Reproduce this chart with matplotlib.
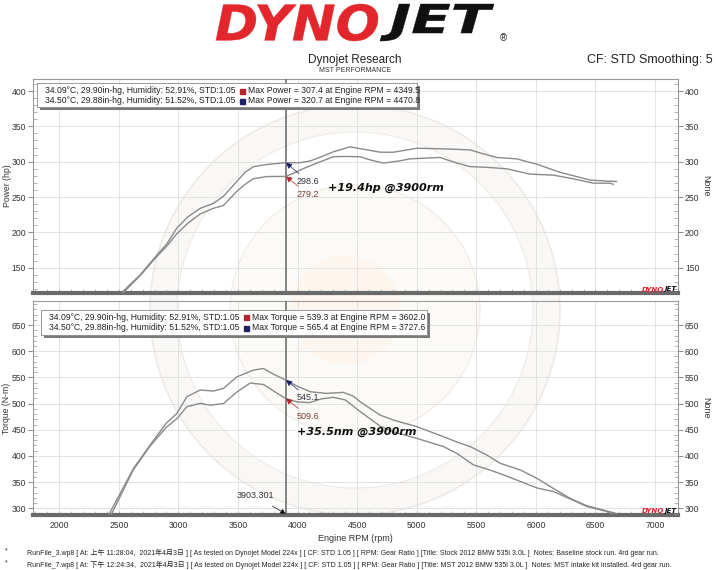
import matplotlib
matplotlib.use("Agg")
import matplotlib.pyplot as plt
from matplotlib.patches import Rectangle, Circle, PathPatch
from matplotlib.ticker import MultipleLocator
from matplotlib.textpath import TextPath
from matplotlib.font_manager import FontProperties
from matplotlib.transforms import Affine2D

# ---------------- data ----------------
hp_mst_rpm = [2526, 2680, 2820, 2900, 2987, 3080, 3183, 3294, 3378, 3490, 3560, 3630, 3742, 3900,
              4022, 4106, 4200, 4301, 4441, 4525, 4693, 4805, 5001, 5252, 5448, 5560, 5672, 5839,
              6007, 6203, 6455, 6594, 6678]
hp_mst = [115, 140, 168, 183, 206, 222, 234, 241, 251, 272, 285, 293, 296, 298.6,
          298.6, 301, 307, 314, 321, 318.5, 313.4, 313.4, 319, 318, 316.7, 311, 306, 304,
          296.5, 285, 274, 272.5, 272]

hp_stock_rpm = [2540, 2680, 2820, 2900, 2987, 3080, 3183, 3294, 3378, 3490, 3560, 3630, 3742, 3900,
                3966, 4060, 4162, 4301, 4400, 4525, 4600, 4721, 4850, 4945, 5196, 5300, 5448, 5588,
                5755, 5951, 6147, 6315, 6483, 6623, 6650]
hp_stock = [115, 139, 166, 180, 198, 213, 226, 234, 238, 258, 268, 276, 279, 279.2,
            283.7, 291, 298, 307, 307.4, 307, 303, 298, 301, 304, 306, 300, 293, 292,
            290, 282.4, 281, 275.7, 269.6, 269.6, 268]

tq_mst_rpm = [2410, 2623, 2763, 2900, 2987, 3071, 3183, 3294, 3378, 3490, 3630, 3714, 3800, 3900,
              4000, 4106, 4245, 4383, 4470, 4525, 4693, 4805, 5001, 5224, 5364, 5448, 5588, 5700,
              5867, 6007, 6147, 6287, 6427, 6594, 6678]
tq_mst = [285, 376, 421, 463, 481, 513, 526, 524, 529, 551, 564, 567, 556, 545.1,
          533, 522.7, 519.5, 521.5, 514, 503.6, 478, 468.6, 456, 436.8, 424.4, 418, 401.8, 386,
          373.5, 357.5, 338, 319, 305, 295, 290]

tq_stock_rpm = [2430, 2623, 2763, 2900, 2987, 3071, 3183, 3267, 3378, 3490, 3602, 3714, 3800, 3900,
                4000, 4100, 4200, 4301, 4400, 4525, 4693, 4805, 5001, 5224, 5336, 5476, 5616, 5727,
                5867, 6007, 6147, 6287, 6427, 6594, 6640]
tq_stock = [285, 374, 419, 455, 471, 494, 500.5, 497, 500, 522, 539.3, 536.5, 524, 509.6,
            503, 502, 509, 512, 507, 485, 457, 446, 433.6, 418, 405, 383, 373, 364,
            351.6, 339, 332, 318, 303.6, 294, 290]

cursor_rpm = 3903.301
hp_at_cursor = [298.6, 279.2]     # MST, stock
tq_at_cursor = [545.1, 509.6]

legend_cond = ["34.09°C, 29.90in-hg, Humidity: 52.91%, STD:1.05",
               "34.50°C, 29.88in-hg, Humidity: 51.52%, STD:1.05"]
legend_power = ["Max Power = 307.4 at Engine RPM = 4349.5",
                "Max Power = 320.7 at Engine RPM = 4470.8"]
legend_torque = ["Max Torque = 539.3 at Engine RPM = 3602.0",
                 "Max Torque = 565.4 at Engine RPM = 3727.6"]

footer = ["RunFile_3.wp8 [ At: 上午 11:28:04,  2021年4月3日 ] [ As tested on Dynojet Model 224x ] [ CF: STD 1.05 ] [ RPM: Gear Ratio ] [Title: Stock 2012 BMW 535i 3.0L ]  Notes: Baseline stock run. 4rd gear run.",
          "RunFile_7.wp8 [ At: 下午 12:24:34,  2021年4月3日 ] [ As tested on Dynojet Model 224x ] [ CF: STD 1.05 ] [ RPM: Gear Ratio ] [Title: MST 2012 BMW 535i 3.0L ]  Notes: MST intake kit installed. 4rd gear run."]

# ---------------- style ----------------
W, H = 716, 570
plt.rcParams['font.family'] = ['Liberation Sans', 'Noto Sans CJK SC', 'DejaVu Sans']
RED = '#b3262b'
NAVY = '#1f2066'
CURVE = '#8a8a8a'
LOGO_RED = '#e2262c'
TICK_FS = 6.2

fig = plt.figure(figsize=(W / 100, H / 100), dpi=100)
fig.patch.set_facecolor('white')

def fx(px):
    return px / W

def fy(py):
    return 1 - py / H

# background layer in pixel coordinates (watermark + header logo)
bg = fig.add_axes([0, 0, 1, 1], zorder=-5)
bg.set_xlim(0, W)
bg.set_ylim(H, 0)
bg.axis('off')
cx, cy = 355, 310
bg.add_patch(Circle((cx, cy), 205, fc='#faf8f6', ec='#eeeae6', lw=1.2))
bg.add_patch(Circle((cx, cy), 178, fc='white', ec='#f0ece8', lw=0.9))
bg.add_patch(Circle((cx, cy), 125, fc='#fcfaf7', ec='#f1ece7', lw=0.9))
bg.add_patch(Circle((cx - 10, cy), 55, fc='#fdf6ee', ec='none'))

logo_font = FontProperties(family='DejaVu Sans', weight='bold', style='italic')

def logo_word(word, x0, x1, ytop, ybot, color):
    tp = TextPath((0, 0), word, size=10, prop=logo_font)
    ext = tp.get_extents()
    sx = (x1 - x0) / ext.width
    sy = (ybot - ytop) / ext.height
    tr = (Affine2D().translate(-ext.x0, -ext.y0).scale(sx, -sy).translate(x0, ybot)
          + bg.transData)
    bg.add_patch(PathPatch(tp, transform=tr, fc=color, ec=color, lw=0.3))

logo_word('DYNO', 216, 378, 4, 41, LOGO_RED)
logo_word('JET', 380, 494, 4, 41, '#111')
bg.text(503, 41, '®', ha='center', va='baseline', fontsize=7, color='#222')

def make_axes(top_px, bot_px):
    ax = fig.add_axes([fx(33), fy(bot_px), fx(678) - fx(33), (bot_px - top_px) / H])
    ax.set_facecolor('none')
    return ax

ax1 = make_axes(79, 293)
ax2 = make_axes(301, 515)

for ax, ylim, ymaj in [(ax1, (114.2, 417), 50), (ax2, (287.2, 696), 50)]:
    ax.set_xlim(1780, 7193)
    ax.set_ylim(*ylim)
    ax.xaxis.set_major_locator(MultipleLocator(500))
    ax.xaxis.set_minor_locator(MultipleLocator(100))
    ax.yaxis.set_major_locator(MultipleLocator(ymaj))
    ax.yaxis.set_minor_locator(MultipleLocator(10))
    ax.grid(True, which='major', color='#dedede', lw=0.6, zorder=0)
    ax.set_axisbelow(True)
    for s in ['left', 'top', 'right']:
        ax.spines[s].set_color('#9a9a9a')
        ax.spines[s].set_linewidth(0.8)
    ax.spines['bottom'].set_color('#6a6a6a')
    ax.spines['bottom'].set_linewidth(3.0)
    ax.tick_params(axis='y', which='major', direction='out', length=3.5, width=0.6,
                   color='#777', labelsize=TICK_FS, labelcolor='#333', pad=1.5)
    ax.tick_params(axis='y', which='minor', direction='in', length=3, width=0.5, color='#999')
    ax.tick_params(axis='x', which='both', direction='in', length=3, width=0.5, color='#aaa',
                   labelsize=TICK_FS, labelcolor='#333', pad=4)
    ax.axvline(cursor_rpm, color='#707070', lw=1.2, zorder=3)
    tw = ax.twinx()
    tw.set_ylim(*ylim)
    tw.yaxis.set_major_locator(MultipleLocator(ymaj))
    tw.yaxis.set_minor_locator(MultipleLocator(10))
    tw.tick_params(axis='y', which='major', direction='out', length=3.5, width=0.6,
                   color='#777', labelsize=TICK_FS, labelcolor='#333', pad=1.5)
    tw.tick_params(axis='y', which='minor', direction='in', length=3, width=0.5, color='#999')
    for s in tw.spines.values():
        s.set_visible(False)
    tw.set_ylabel('None', rotation=-90, fontsize=6.5, color='#333', va='center')
    tw.yaxis.set_label_coords((706 - 33) / 645, 0.5)

ax1.tick_params(axis='x', labelbottom=False)
ax1.set_ylabel('Power (hp)', fontsize=6.2, color='#333', va='center')
ax1.yaxis.set_label_coords((7 - 33) / 645, 0.5)
ax2.set_ylabel('Torque (N-m)', fontsize=6.2, color='#333', va='center')
ax2.yaxis.set_label_coords((7 - 33) / 645, 0.5)
ax2.set_xlabel('Engine RPM (rpm)', fontsize=6.5, color='#333', labelpad=3)

# curves
ax1.plot(hp_mst_rpm, hp_mst, color=CURVE, lw=1.0, zorder=4)
ax1.plot(hp_stock_rpm, hp_stock, color=CURVE, lw=1.0, zorder=4)
ax2.plot(tq_mst_rpm, tq_mst, color=CURVE, lw=1.0, zorder=4)
ax2.plot(tq_stock_rpm, tq_stock, color=CURVE, lw=1.0, zorder=4)

# cursor markers
def cursor_label(ax, yval, color, txtcolor, dy):
    ax.annotate(f"{yval:.1f}", xy=(cursor_rpm, yval), xytext=(11, dy), textcoords='offset pixels',
                ha='left', va='center', fontsize=6.5, color=txtcolor, zorder=6,
                arrowprops=dict(arrowstyle='-|>,head_length=0.55,head_width=0.28',
                                fc=color, ec=color, lw=0.5, shrinkA=1, shrinkB=0))

cursor_label(ax1, hp_at_cursor[0], NAVY, '#333344', -19)
cursor_label(ax1, hp_at_cursor[1], RED, '#7a3b36', -18)
cursor_label(ax2, tq_at_cursor[0], NAVY, '#333344', -18)
cursor_label(ax2, tq_at_cursor[1], RED, '#7a3b36', -18)

ax1.text(4258, 263, '+19.4hp @3900rm', fontsize=8, fontweight='bold', style='italic',
         family='DejaVu Sans', color='#111', ha='left', va='center', zorder=6)
ax2.text(3998, 445.7, '+35.5nm @3900rm', fontsize=8, fontweight='bold', style='italic',
         family='DejaVu Sans', color='#111', ha='left', va='center', zorder=6)

ax2.annotate(f"{cursor_rpm:.3f}", xy=(cursor_rpm, 289), xytext=(3645, 323.5), textcoords='data',
             ha='center', va='center', fontsize=6.5, color='#333', zorder=6,
             arrowprops=dict(arrowstyle='-|>,head_length=0.5,head_width=0.25', fc='black',
                             ec='#333', lw=0.6, shrinkA=4, shrinkB=0))

# legend boxes (in pixel geometry)
def legend_box(ax, ax_top, ax_bot, box, rows, right_texts):
    hpx = ax_bot - ax_top
    wpx = 645
    x0, y0, x1, y1 = box
    def ax_xy(px, py):
        return ((px - 33) / wpx, (ax_bot - py) / hpx)
    sx, sy = ax_xy(x0 + 3, y1 + 3)
    ax.add_patch(Rectangle((sx, sy), (x1 - x0) / wpx, (y1 - y0) / hpx, transform=ax.transAxes,
                           fc='#7a7a7a', ec='none', zorder=7, clip_on=False))
    bx, by = ax_xy(x0, y1)
    ax.add_patch(Rectangle((bx, by), (x1 - x0) / wpx, (y1 - y0) / hpx, transform=ax.transAxes,
                           fc='white', ec='#888', lw=0.6, zorder=8, clip_on=False))
    for i, (ry, col) in enumerate(zip(rows, [RED, NAVY])):
        tx, ty = ax_xy(x0 + 8, ry)
        ax.text(tx, ty, legend_cond[i], transform=ax.transAxes, fontsize=6.2, color='#222',
                ha='left', va='center', zorder=9)
        qx, qy = ax_xy(x0 + 205, ry)
        ax.plot([qx], [qy], marker='s', ms=3.6, color=col, transform=ax.transAxes,
                zorder=9, clip_on=False)
        rx, ry2 = ax_xy(x0 + 211, ry)
        ax.text(rx, ry2, right_texts[i], transform=ax.transAxes, fontsize=6.2, color='#222',
                ha='left', va='center', zorder=9)

legend_box(ax1, 79, 293, (37, 83, 417, 107), [90.5, 100.5], legend_power)
legend_box(ax2, 301, 515, (41, 310, 427, 335), [317, 327.5], legend_torque)

# small logos in corner
for ly in [289.5, 511]:
    fig.text(fx(664), fy(ly), 'DYNO', ha='right', va='center', fontsize=5, fontweight='bold',
             style='italic', family='DejaVu Sans', color=LOGO_RED)
    fig.text(fx(664), fy(ly), 'JET', ha='left', va='center', fontsize=5, fontweight='bold',
             style='italic', family='DejaVu Sans', color='#111')

fig.text(fx(355), fy(60), 'Dynojet Research', ha='center', va='center', fontsize=8.5, color='#222')
fig.text(fx(355), fy(71), 'MST PERFORMANCE', ha='center', va='center', fontsize=5, color='#333')
fig.text(fx(713), fy(60), 'CF: STD Smoothing: 5', ha='right', va='center', fontsize=9, color='#222')

# footer
for i, line in enumerate(footer):
    yy = 553 + i * 11.5
    fig.text(fx(5), fy(yy - 2), '*', ha='left', va='center', fontsize=5, color='#222')
    fig.text(fx(27), fy(yy), line, ha='left', va='center', fontsize=5, color='#222')

fig.savefig('out.png', dpi=100)
